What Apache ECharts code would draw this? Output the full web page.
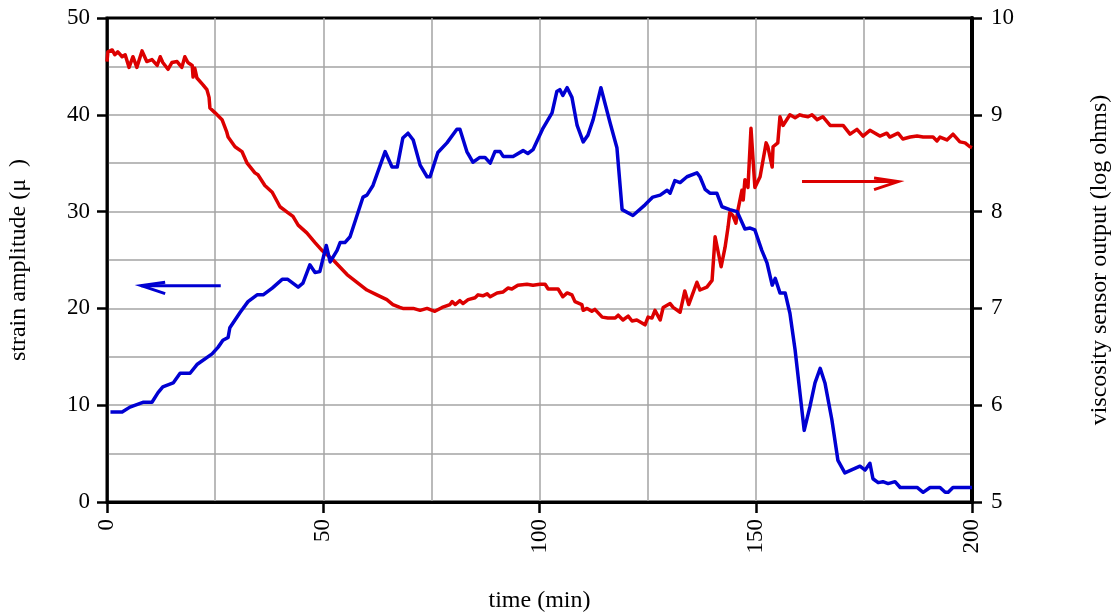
<!DOCTYPE html>
<html>
<head>
<meta charset="utf-8">
<title>Strain amplitude and viscosity sensor output vs time</title>
<script src="https://cdn.jsdelivr.net/npm/echarts@6/dist/echarts.min.js"></script>
<style>
  html, body { margin: 0; padding: 0; background: #fff; }
  #chart { width: 1119px; height: 614px; }
</style>
</head>
<body>
<div id="chart"></div>
<script>
// Strain amplitude (left axis), [time in min, amplitude]
const strainSeries = [
  [0.8,9.3],[3.5,9.3],[5.3,9.8],[8.3,10.3],[10.4,10.3],[11.8,11.3],[12.9,11.9],[15.3,12.3],
  [16.9,13.3],[19.2,13.3],[20.8,14.2],[24.3,15.3],[25.7,16.0],[26.8,16.7],[28.0,17.0],[28.4,18.0],
  [30.8,19.6],[32.6,20.7],[34.7,21.4],[36.1,21.4],[38.2,22.1],[40.5,23.0],[41.8,23.0],[44.2,22.2],
  [45.3,22.6],[46.9,24.5],[48.1,23.7],[49.2,23.8],[50.7,26.5],[51.6,24.8],[53.2,26.0],[53.9,26.8],
  [55.0,26.8],[56.2,27.4],[59.2,31.5],[60.1,31.7],[61.5,32.7],[64.3,36.2],[65.9,34.6],[67.1,34.6],
  [68.4,37.6],[69.6,38.1],[70.8,37.4],[72.4,34.8],[74.0,33.6],[74.7,33.6],[76.5,36.1],[78.6,37.1],
  [80.9,38.5],[81.6,38.5],[83.2,36.2],[84.6,35.1],[86.2,35.6],[87.4,35.6],[88.6,35.0],[89.7,36.2],
  [90.9,36.2],[91.6,35.7],[93.9,35.7],[96.2,36.3],[97.3,36.0],[98.5,36.4],[100.8,38.6],[102.9,40.2],
  [104.0,42.4],[104.7,42.6],[105.4,42.0],[106.4,42.8],[107.5,41.8],[108.7,38.9],[110.1,37.2],[111.2,37.9],
  [112.4,39.5],[114.2,42.8],[116.3,39.2],[117.9,36.6],[119.1,30.2],[121.6,29.6],[124.4,30.7],[126.2,31.5],
  [127.9,31.7],[129.5,32.2],[130.2,31.9],[131.3,33.2],[132.5,33.0],[134.1,33.6],[136.4,34.0],[137.1,33.6],
  [138.3,32.3],[139.4,31.9],[141.0,31.9],[142.2,30.5],[144.0,30.2],[145.7,30.0],[147.5,28.2],[148.7,28.3],
  [149.8,28.1],[151.4,26.0],[152.6,24.7],[153.8,22.4],[154.5,23.1],[155.6,21.6],[156.8,21.6],[157.9,19.5],
  [159.1,15.7],[161.2,7.4],[162.5,9.8],[163.7,12.3],[164.9,13.8],[166.0,12.3],[167.6,8.5],[169.0,4.3],
  [170.6,3.0],[174.1,3.7],[175.3,3.3],[176.4,4.0],[177.1,2.4],[178.3,2.0],[179.4,2.1],[180.6,1.9],
  [182.2,2.1],[183.4,1.5],[187.3,1.5],[188.7,1.0],[190.3,1.5],[192.6,1.5],[193.8,1.0],[194.5,1.0],
  [195.6,1.5],[200.0,1.5]
];

// Viscosity sensor output (right axis, log ohms), [time in min, value]
const viscositySeries = [
  [0,9.55],[0.2,9.65],[1.2,9.67],[1.8,9.62],[2.5,9.65],[3.5,9.60],[4.2,9.62],[5.1,9.49],[6.0,9.60],
  [6.9,9.49],[8.1,9.66],[9.2,9.55],[10.4,9.57],[11.6,9.51],[12.3,9.60],[12.9,9.54],[14.1,9.47],
  [15.0,9.54],[16.2,9.55],[17.3,9.49],[18.0,9.60],[18.7,9.54],[19.7,9.51],[19.9,9.39],[20.3,9.48],
  [20.8,9.38],[22.2,9.31],[23.1,9.26],[23.6,9.18],[23.8,9.07],[25.0,9.02],[26.6,8.95],[27.7,8.82],
  [28.0,8.77],[29.6,8.67],[31.2,8.62],[32.4,8.50],[34.2,8.40],[34.9,8.38],[36.5,8.27],[38.2,8.20],
  [40.0,8.05],[41.8,7.99],[43.0,7.95],[44.2,7.86],[46.2,7.78],[48.1,7.68],[49.7,7.60],[52.3,7.50],
  [55.5,7.35],[57.8,7.27],[60.1,7.19],[62.4,7.14],[64.7,7.09],[66.1,7.04],[67.7,7.01],[68.4,7.00],
  [70.8,7.00],[72.4,6.98],[74.0,7.00],[75.8,6.97],[77.5,7.01],[79.3,7.04],[79.8,7.07],[80.5,7.04],
  [81.6,7.08],[82.3,7.05],[83.5,7.09],[85.1,7.11],[85.8,7.14],[86.9,7.13],[87.9,7.15],[88.6,7.12],
  [90.2,7.16],[91.6,7.17],[92.7,7.21],[93.6,7.20],[95.0,7.24],[97.1,7.25],[98.5,7.24],[100.1,7.25],
  [101.3,7.25],[102.0,7.20],[104.3,7.20],[105.4,7.12],[106.4,7.16],[107.5,7.14],[108.2,7.07],[109.8,7.04],
  [110.1,6.98],[111.0,7.00],[112.1,6.97],[112.8,6.99],[114.5,6.91],[115.8,6.90],[117.5,6.90],[118.2,6.93],
  [119.3,6.88],[120.5,6.92],[121.4,6.87],[122.5,6.88],[123.7,6.85],[124.4,6.83],[125.1,6.91],[126.0,6.90],
  [126.7,6.98],[127.9,6.88],[128.6,7.01],[130.2,7.05],[130.9,7.01],[132.5,6.96],[133.6,7.18],[134.5,7.04],
  [135.5,7.16],[136.4,7.27],[137.1,7.19],[138.7,7.22],[139.9,7.29],[140.6,7.74],[142.0,7.43],[142.9,7.63],
  [143.6,7.84],[144.0,7.99],[144.7,7.96],[145.4,7.88],[145.9,8.02],[146.8,8.22],[147.1,8.12],[147.5,8.33],
  [148.2,8.25],[148.9,8.86],[149.8,8.25],[151.0,8.36],[152.4,8.71],[152.8,8.67],[153.8,8.46],[154.0,8.67],
  [155.1,8.71],[155.6,8.98],[156.3,8.89],[157.9,9.00],[159.1,8.97],[160.2,9.00],[160.9,8.99],[162.1,8.98],
  [163.0,9.00],[164.2,8.95],[165.5,8.98],[167.2,8.89],[168.8,8.89],[170.2,8.89],[171.8,8.80],[173.4,8.85],
  [174.8,8.78],[176.4,8.84],[177.6,8.81],[178.7,8.78],[180.3,8.81],[181.0,8.77],[182.9,8.81],[184.0,8.75],
  [185.7,8.77],[187.3,8.78],[188.7,8.77],[191.0,8.77],[191.9,8.73],[192.6,8.77],[194.2,8.74],[195.6,8.80],
  [197.2,8.72],[198.4,8.71],[199.5,8.67],[200,8.66]
];

// Axis-pointer arrows: [x from, y from, x to (tip), y to (tip)] in each axis' data units
const strainArrow = [26.3, 22.35, 7.9, 22.35];
const viscosityArrow = [160.7, 8.31, 182.9, 8.31];

// Axis ranges
const timeRange = [0, 200];
const strainRange = [0, 50];
const viscosityRange = [5, 10];

const FONT = 'Liberation Serif';
const TICK_FONT = 23;
const NAME_FONT = 24;
const BLUE = '#0000d2';
const RED = '#dc0000';
const GRID_GREY = '#a4a4a4';

function arrowRenderer(color) {
  return function (params, api) {
    const tail = api.coord([api.value(0), api.value(1)]);
    const tip = api.coord([api.value(2), api.value(3)]);
    const dx = tail[0] - tip[0], dy = tail[1] - tip[1];
    const len = Math.sqrt(dx * dx + dy * dy) || 1;
    const ux = dx / len, uy = dy / len;       // from tip back towards tail
    let nx = -uy, ny = ux;                    // perpendicular
    if (ny < 0 || (ny === 0 && nx < 0)) { nx = -nx; ny = -ny; }
    const back = 24;
    const barbA = [tip[0] + ux * back - nx * 3.5, tip[1] + uy * back - ny * 3.5];
    const barbB = [tip[0] + ux * back + nx * 8, tip[1] + uy * back + ny * 8];
    const style = { stroke: color, lineWidth: 3, fill: null, lineJoin: 'miter' };
    return {
      type: 'group',
      children: [
        { type: 'polyline', shape: { points: [tail, tip] }, style: style },
        { type: 'polyline', shape: { points: [barbA, tip, barbB] }, style: style }
      ]
    };
  };
}

const chart = echarts.init(document.getElementById('chart'), null, { renderer: 'canvas' });

chart.setOption({
  animation: false,
  backgroundColor: '#ffffff',
  grid: {
    left: 107, right: 147, top: 18, bottom: 112,
    containLabel: false, outerBoundsMode: 'none',
    show: true, borderColor: '#000', borderWidth: 3, backgroundColor: 'transparent'
  },
  xAxis: {
    type: 'value',
    min: timeRange[0], max: timeRange[1], interval: 50,
    name: 'time (min)', nameLocation: 'middle', nameGap: 87,
    nameTextStyle: { fontFamily: FONT, fontSize: NAME_FONT, color: '#000' },
    axisLine: { show: true, onZero: false, lineStyle: { color: '#000', width: 3 } },
    axisTick: { show: true, length: 11, lineStyle: { color: '#000', width: 2.5 } },
    axisLabel: { rotate: 90, margin: 17, fontFamily: FONT, fontSize: TICK_FONT, color: '#000' },
    splitLine: { show: true, showMinLine: false, showMaxLine: false, lineStyle: { color: GRID_GREY, width: 1.5 } },
    minorTick: { show: false, splitNumber: 2 },
    minorSplitLine: { show: true, lineStyle: { color: GRID_GREY, width: 1.5 } }
  },
  yAxis: [
    {
      type: 'value', position: 'left',
      min: strainRange[0], max: strainRange[1], interval: 10,
      name: 'strain amplitude (μ  )', nameLocation: 'middle', nameGap: 76, nameRotate: 90,
      nameTextStyle: { fontFamily: FONT, fontSize: NAME_FONT, color: '#000' },
      axisLine: { show: true, lineStyle: { color: '#000', width: 2.5 } },
      axisTick: { show: true, length: 10, lineStyle: { color: '#000', width: 2.5 } },
      axisLabel: { margin: 17, fontFamily: FONT, fontSize: TICK_FONT, color: '#000' },
      splitLine: { show: true, showMinLine: false, showMaxLine: false, lineStyle: { color: GRID_GREY, width: 1.5 } },
      minorTick: { show: false, splitNumber: 2 },
      minorSplitLine: { show: true, lineStyle: { color: GRID_GREY, width: 1.5 } }
    },
    {
      type: 'value', position: 'right',
      min: viscosityRange[0], max: viscosityRange[1], interval: 1,
      name: 'viscosity sensor output (log ohms)', nameLocation: 'middle', nameGap: 116, nameRotate: 90,
      nameTextStyle: { fontFamily: FONT, fontSize: NAME_FONT, color: '#000' },
      axisLine: { show: true, lineStyle: { color: '#000', width: 4 } },
      axisTick: { show: true, length: 10, lineStyle: { color: '#000', width: 2.5 } },
      axisLabel: { margin: 19, fontFamily: FONT, fontSize: TICK_FONT, color: '#000' },
      splitLine: { show: false }
    }
  ],
  series: [
    {
      name: 'viscosity sensor output', type: 'line', yAxisIndex: 1,
      data: viscositySeries, showSymbol: false, symbol: 'none',
      lineStyle: { color: RED, width: 3.5, join: 'round' }, z: 3
    },
    {
      name: 'strain amplitude', type: 'line', yAxisIndex: 0,
      data: strainSeries, showSymbol: false, symbol: 'none',
      lineStyle: { color: BLUE, width: 3.5, join: 'round' }, z: 4
    },
    {
      type: 'custom', yAxisIndex: 0, silent: true, clip: false,
      encode: { x: [0, 2], y: [1, 3] },
      data: [strainArrow], renderItem: arrowRenderer(BLUE), z: 5
    },
    {
      type: 'custom', yAxisIndex: 1, silent: true, clip: false,
      encode: { x: [0, 2], y: [1, 3] },
      data: [viscosityArrow], renderItem: arrowRenderer(RED), z: 5
    }
  ]
});
</script>
</body>
</html>
